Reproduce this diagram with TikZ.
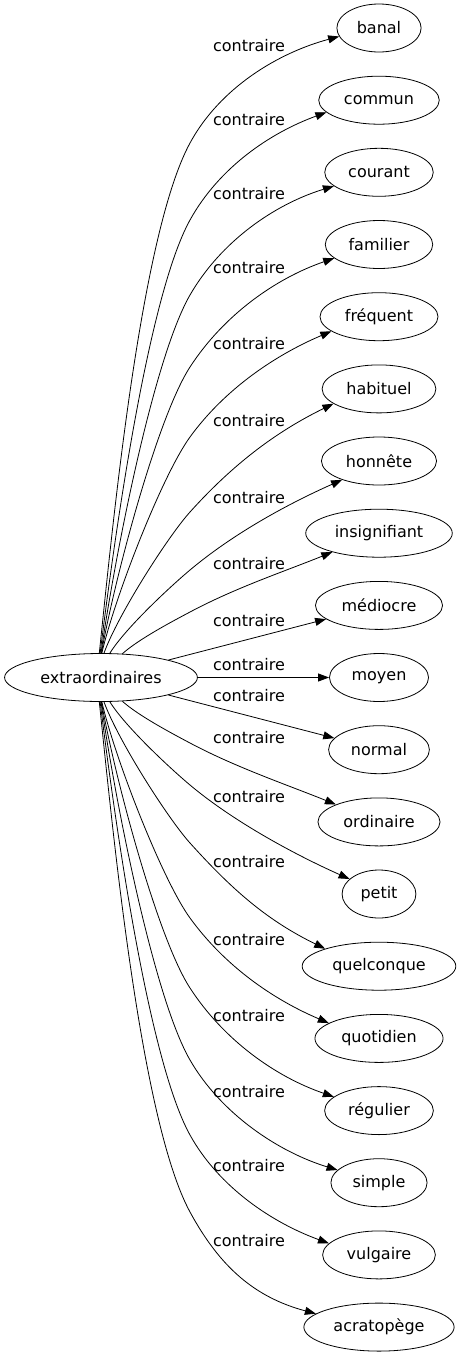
\documentclass[tikz,border=0pt]{standalone}
\usepackage{fontspec}
\newfontfamily\dvfont{DejaVu Sans}
\usetikzlibrary{shapes.geometric,arrows.meta}
\tikzset{
  word/.style={ellipse, draw, line width=0.8pt, minimum height=48pt, inner xsep=7.6pt, inner ysep=2pt, font=\dvfont\fontsize{16}{19}\selectfont},
  lab/.style={anchor=base, inner sep=0pt, font=\dvfont\fontsize{16}{19}\selectfont},
  edge/.style={line width=0.8pt, -{Triangle[length=11pt,width=8pt]}}
}
\begin{document}
\begin{tikzpicture}[x=1pt,y=-1pt]
\useasboundingbox (0,0) rectangle (460,1355);
\fill[white] (0,0) rectangle (460,1355);
\node[word] (src) at (101,677.5) {extraordinaires};
\node[word] (t0) at (379,28) {banal};
\node[word] (t1) at (379,100.2) {commun};
\node[word] (t2) at (379,172.3) {courant};
\node[word] (t3) at (379,244.5) {familier};
\node[word] (t4) at (379,316.7) {fréquent};
\node[word] (t5) at (379,388.9) {habituel};
\node[word] (t6) at (379,461) {honnête};
\node[word] (t7) at (379,533.2) {insignifiant};
\node[word] (t8) at (379,605.4) {médiocre};
\node[word] (t9) at (379,677.5) {moyen};
\node[word] (t10) at (379,749.7) {normal};
\node[word] (t11) at (379,821.9) {ordinaire};
\node[word] (t12) at (379,894) {petit};
\node[word] (t13) at (379,966.2) {quelconque};
\node[word] (t14) at (379,1038.4) {quotidien};
\node[word] (t15) at (379,1110.6) {régulier};
\node[word] (t16) at (379,1182.7) {simple};
\node[word] (t17) at (379,1254.9) {vulgaire};
\node[word] (t18) at (379,1327.1) {acratopège};
% upper edges
\draw[edge] (src.94) .. controls +(84:130pt) and +(241.5:104pt) .. (190,143) .. controls +(61.5:63pt) and +(195:63pt) .. (t0.192);
\draw[edge] (src.92) .. controls +(83:110pt) and +(241:88pt) .. (190,220) .. controls +(61:60pt) and +(200:60pt) .. (t1.193);
\draw[edge] (src.90) .. controls +(82:92pt) and +(240:74pt) .. (190,295) .. controls +(60:62pt) and +(197:62pt) .. (t2.197);
\draw[edge] (src.89) .. controls +(80:75pt) and +(237:60pt) .. (190,367) .. controls +(57:62pt) and +(199:62pt) .. (t3.197);
\draw[edge] (src.88) .. controls +(77:58pt) and +(234:47pt) .. (190,437) .. controls +(54:60pt) and +(203:60pt) .. (t4.197);
\draw[edge] (src.83) .. controls +(70:41pt) and +(228:33pt) .. (190,512) .. controls +(48:64pt) and +(206:64pt) .. (t5.198);
\draw[edge] (src.70) .. controls +(58:30pt) and +(220:25pt) .. (190,570) .. controls +(40:58pt) and +(204:58pt) .. (t6.207);
\draw[edge] (src.48) .. controls +(42:22pt) and +(208:18pt) .. (190,612) .. controls +(28:52pt) and +(202:52pt) .. (t7.202);
% straight edges
\draw[edge] (src) -- (t8);
\draw[edge] (src) -- (t9);
\draw[edge] (src) -- (t10);
% lower edges
\draw[edge] (src.312) .. controls +(-42:22pt) and +(152:18pt) .. (190,743) .. controls +(-28:52pt) and +(158:52pt) .. (t11.158);
\draw[edge] (src.290) .. controls +(-58:30pt) and +(140:25pt) .. (190,785) .. controls +(-40:58pt) and +(156:58pt) .. (t12.153);
\draw[edge] (src.277) .. controls +(-70:41pt) and +(132:33pt) .. (190,843) .. controls +(-48:64pt) and +(154:64pt) .. (t13.162);
\draw[edge] (src.272) .. controls +(-77:58pt) and +(126:47pt) .. (190,918) .. controls +(-54:60pt) and +(157:60pt) .. (t14.163);
\draw[edge] (src.271) .. controls +(-80:75pt) and +(123:60pt) .. (190,988) .. controls +(-57:62pt) and +(161:62pt) .. (t15.163);
\draw[edge] (src.270) .. controls +(-82:92pt) and +(120:74pt) .. (190,1060) .. controls +(-60:62pt) and +(163:62pt) .. (t16.163);
\draw[edge] (src.268) .. controls +(-83:110pt) and +(119:88pt) .. (190,1135) .. controls +(-61:60pt) and +(160:60pt) .. (t17.167);
\draw[edge] (src.266) .. controls +(-84:130pt) and +(118.5:104pt) .. (190,1212) .. controls +(-61.5:63pt) and +(165:63pt) .. (t18.168);
% labels
\node[lab] (l0) at (249,51.5) {contraire};
\node[lab] (l1) at (249,125.5) {contraire};
\node[lab] (l2) at (249,199.5) {contraire};
\node[lab] (l3) at (249,273.5) {contraire};
\node[lab] (l4) at (249,349.5) {contraire};
\node[lab] (l5) at (249,426.5) {contraire};
\node[lab] (l6) at (249,503.5) {contraire};
\node[lab] (l7) at (249,569.5) {contraire};
\node[lab] (l8) at (249,626.5) {contraire};
\node[lab] (l9) at (249,670.5) {contraire};
\node[lab] (l10) at (249,701.5) {contraire};
\node[lab] (l11) at (249,743.5) {contraire};
\node[lab] (l12) at (249,802.5) {contraire};
\node[lab] (l13) at (249,867.5) {contraire};
\node[lab] (l14) at (249,945.5) {contraire};
\node[lab] (l15) at (249,1021.5) {contraire};
\node[lab] (l16) at (249,1097.5) {contraire};
\node[lab] (l17) at (249,1171.5) {contraire};
\node[lab] (l18) at (249,1246.5) {contraire};
\end{tikzpicture}
\end{document}
